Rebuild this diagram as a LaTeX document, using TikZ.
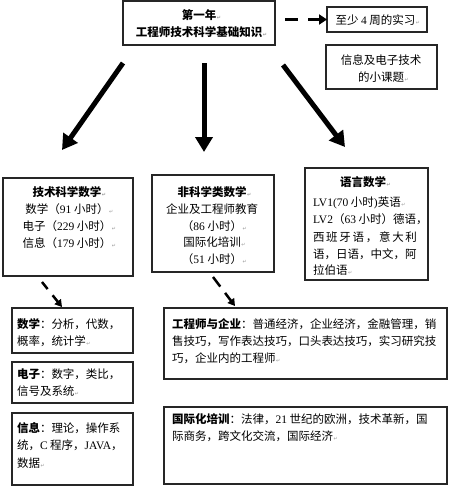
\documentclass[tikz,border=0pt]{standalone}
\usepackage{fontspec}
\setmainfont{Noto Sans CJK SC}
\newfontfamily\latf{Liberation Serif}
\newfontfamily\djv{DejaVu Sans}
\usetikzlibrary{arrows.meta}
\newcommand\lat[1]{{\latf #1}}
\newcommand\retm{\rlap{\kern0.5pt\textcolor{black!40}{\djv\fontsize{5}{5}\selectfont ↵}}}
\begin{document}
\begin{tikzpicture}[x=1pt,y=-1pt,
  box/.style={draw=black!85, line width=1.1pt, inner sep=0pt, outer sep=0pt, rectangle},
  txt/.style={inner sep=0pt, outer sep=0pt, font=\fontsize{11.5}{14}\selectfont, anchor=base},
  txtl/.style={txt, anchor=base west},
  bigarrow/.style={line width=5pt, -{Triangle[length=15pt,width=17pt]}},
  dasharrow/.style={line width=3pt, dash pattern=on 13pt off 10pt, -{Triangle[length=8pt,width=10pt]}},
  smallarrow/.style={line width=2.5pt, dash pattern=on 9pt off 8pt, -{Triangle[length=7pt,width=8pt]}}
]
\useasboundingbox[fill=white] (0,0) rectangle (450,488);

% boxes
\node[box, minimum width=152pt, minimum height=44pt] (top) at (199,23) {};
\node[box, minimum width=100pt, minimum height=25pt] (intern) at (377,19.5) {};
\node[box, minimum width=111pt, minimum height=44pt] (proj) at (381.5,67) {};
\node[box, minimum width=130pt, minimum height=98pt] (tech) at (68,227) {};
\node[box, minimum width=122pt, minimum height=97pt] (nonsci) at (213,223.5) {};
\node[box, minimum width=123pt, minimum height=112pt] (lang) at (366.5,224) {};
\node[box, minimum width=121pt, minimum height=45pt] (math) at (72.5,330.5) {};
\node[box, minimum width=121pt, minimum height=41pt] (elec) at (72.5,382.5) {};
\node[box, minimum width=121pt, minimum height=72pt] (info) at (72.5,449) {};
\node[box, minimum width=283pt, minimum height=71pt] (eng) at (305.5,343.5) {};
\node[box, minimum width=283pt, minimum height=77pt] (intl) at (305.5,445.5) {};

% top texts
\node[txt] (t1) at (199,19) {\bfseries 第一年\retm};
\node[txt] (t2) at (199,36) {\bfseries 工程师技术科学基础知识\retm};
\node[txt] (i1) at (375.5,24) {至少 \lat{4} 周的实习\retm};
\node[txt] (p1) at (381,64) {信息及电子技术};
\node[txt] (p2) at (381,81) {的小课题\retm};

% technical sciences
\node[txt] (a1) at (67,196) {\bfseries 技术科学数学\retm};
\node[txt] (a2) at (67,213) {数学（\lat{91} 小时）\retm};
\node[txt] (a3) at (67,230) {电子（\lat{229} 小时）\retm};
\node[txt] (a4) at (67,247) {信息（\lat{179} 小时）\retm};

% non-science
\node[txt] (b1) at (212,196) {\bfseries 非科学类数学\retm};
\node[txt] (b2) at (212,213) {企业及工程师教育};
\node[txt] (b3) at (212,230) {（\lat{86} 小时）\retm};
\node[txt] (b4) at (212,246) {国际化培训\retm};
\node[txt] (b5) at (212,263) {（\lat{51} 小时）\retm};

% languages
\node[txt] (c1) at (363,186) {\bfseries 语言数学\retm};
\node[txtl] (c2) at (313,206) {\lat{LV1(70} 小时\lat{)}英语\retm};
\node[txtl] (c3) at (313,223) {\lat{LV2}（\lat{63} 小时）德语，};
\node[txtl] (c4) at (313,241) {\makebox[104pt][s]{西\hfil 班\hfil 牙\hfil 语\hfil ，\hfil 意\hfil 大\hfil 利}};
\node[txtl] (c5) at (313,258) {语，日语，中文，阿};
\node[txtl] (c6) at (313,274) {拉伯语\retm};

% bottom left
\node[txtl] (m1) at (17,328) {\bfseries 数学\mdseries ：分析，代数，};
\node[txtl] (m2) at (17,345) {概率，统计学\retm};
\node[txtl] (e1) at (17,378) {\bfseries 电子\mdseries ：数字，类比，};
\node[txtl] (e2) at (17,395) {信号及系统\retm};
\node[txtl] (f1) at (17,432) {\bfseries 信息\mdseries ：理论，操作系};
\node[txtl] (f2) at (17,449) {统，\lat{C} 程序，\lat{JAVA}，};
\node[txtl] (f3) at (17,467) {数据\retm};

% bottom right
\node[txtl] (g1) at (172,328) {\bfseries 工程师与企业\mdseries ：普通经济，企业经济，金融管理，销};
\node[txtl] (g2) at (172,345) {售技巧，写作表达技巧，口头表达技巧，实习研究技};
\node[txtl] (g3) at (172,362) {巧，企业内的工程师\retm};
\node[txtl] (h1) at (172,423) {\bfseries 国际化培训\mdseries ：法律，\lat{21} 世纪的欧洲，技术革新，国};
\node[txtl] (h2) at (172,440) {际商务，跨文化交流，国际经济\retm};

% arrows
\coordinate (s1) at (123,63);
\coordinate (e1a) at (62,150);
\coordinate (s2) at (204,63);
\coordinate (e2a) at (204,152);
\coordinate (s3) at (283,65);
\coordinate (e3a) at (345,147);
\draw[bigarrow] (s1) -- (e1a);
\draw[bigarrow] (s2) -- (e2a);
\draw[bigarrow] (s3) -- (e3a);

\coordinate (d0) at (285,19.5);
\draw[dasharrow] (d0) -- (intern.west);

\coordinate (l0) at (42,282);
\coordinate (l1) at (62,307);
\draw[smallarrow] (l0) -- (l1);
\coordinate (r0) at (213,277);
\coordinate (r1) at (235,306);
\draw[smallarrow, dash pattern=on 12pt off 8pt] (r0) -- (r1);
\end{tikzpicture}
\end{document}
